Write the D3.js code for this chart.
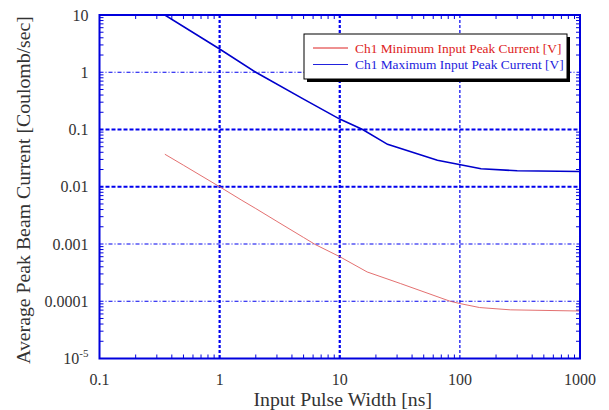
<!DOCTYPE html>
<html>
<head>
<meta charset="utf-8">
<script src="https://cdn.jsdelivr.net/npm/d3@7"></script>
<style>
  body { margin: 0; background: #fff; }
  svg { font-family: "Liberation Serif", "DejaVu Serif", serif; }
</style>
</head>
<body>
<svg id="chart" width="609" height="410"></svg>
<script>
// pulse width [ns] and peak currents
var minWidth = [0.35, 0.5, 1, 1.53, 2, 3, 5, 6.25, 10, 16.9, 32, 83, 100, 146, 263, 1000];
var minCurrent = [0.037, 0.0238, 0.0100, 0.0058, 0.00416, 0.00248, 0.0013, 0.00098, 0.0006,
                  0.000325, 0.000204, 0.0001, 0.0000912, 0.0000776, 0.0000708, 0.0000675];
var maxWidth = [0.35, 1, 2, 5, 10, 15.5, 25, 65, 150, 300, 1000];
var maxCurrent = [10, 2.55, 1.0, 0.34, 0.152, 0.1, 0.055, 0.029, 0.0206, 0.019, 0.0185];

var xTicks = [0.1, 1, 10, 100, 1000];
var yTicks = [1e-5, 0.0001, 0.001, 0.01, 0.1, 1, 10];
var yTickLabels = ["10-5", "0.0001", "0.001", "0.01", "0.1", "1", "10"];
var seriesNames = ["Ch1 Minimum Input Peak Current [V]", "Ch1 Maximum Input Peak Current [V]"];

var svg = d3.select("#chart");
var margin = {top: 15, right: 29, bottom: 51.5, left: 99.5};
var width = 609 - margin.left - margin.right;
var height = 410 - margin.top - margin.bottom;

var x = d3.scaleLog().domain([0.1, 1000]).range([0, width]);
var y = d3.scaleLog().domain([1e-5, 10]).range([height, 0]);

var g = svg.append("g")
    .attr("transform", "translate(" + margin.left + "," + margin.top + ")");

// grid lines (the renderer made some look heavier than others)
var heavyX = [1, 10];
var heavyY = [0.1, 0.01];
g.selectAll(".grid-x")
  .data(xTicks.slice(1, -1))
  .enter().append("line")
  .attr("class", "grid-x")
  .attr("x1", d => x(d)).attr("x2", d => x(d))
  .attr("y1", 0).attr("y2", height)
  .attr("stroke", "#0000ee")
  .attr("stroke-width", d => heavyX.includes(d) ? 2.2 : 1.2)
  .attr("stroke-dasharray", "3,2");
g.selectAll(".grid-y")
  .data(yTicks.slice(1, -1))
  .enter().append("line")
  .attr("class", "grid-y")
  .attr("x1", 0).attr("x2", width)
  .attr("y1", d => y(d)).attr("y2", d => y(d))
  .attr("stroke", "#0000ee")
  .attr("stroke-width", d => heavyY.includes(d) ? 2.2 : 1.2)
  .attr("stroke-dasharray", d => heavyY.includes(d) ? "4,2" : "4,2,1,2");

// minor ticks inside the frame, all four sides
var xMinor = [];
for (var e = -1; e < 3; e++) for (var k = 2; k <= 9; k++) xMinor.push(k * Math.pow(10, e));
var yMinor = [];
for (var e2 = -5; e2 < 1; e2++) for (var k2 = 2; k2 <= 9; k2++) yMinor.push(k2 * Math.pow(10, e2));

var tickLen = 4;
[0, height].forEach(function (yy, i) {
  g.selectAll(".xminor" + i)
    .data(xMinor)
    .enter().append("line")
    .attr("x1", d => x(d)).attr("x2", d => x(d))
    .attr("y1", yy).attr("y2", i ? yy - tickLen : yy + tickLen)
    .attr("stroke", "#0000dd").attr("stroke-width", 1);
});
[0, width].forEach(function (xx, i) {
  g.selectAll(".yminor" + i)
    .data(yMinor)
    .enter().append("line")
    .attr("y1", d => y(d)).attr("y2", d => y(d))
    .attr("x1", xx).attr("x2", i ? xx - tickLen : xx + tickLen)
    .attr("stroke", "#0000dd").attr("stroke-width", 1);
});

// data lines
g.append("clipPath").attr("id", "plot-clip")
  .append("rect").attr("width", width).attr("height", height);

var line = d3.line().x(d => x(d[0])).y(d => y(d[1]));
g.append("path")
  .datum(d3.zip(minWidth, minCurrent))
  .attr("clip-path", "url(#plot-clip)")
  .attr("fill", "none")
  .attr("stroke", "#e06060")
  .attr("stroke-width", 0.9)
  .attr("d", line);
g.append("path")
  .datum(d3.zip(maxWidth, maxCurrent))
  .attr("clip-path", "url(#plot-clip)")
  .attr("fill", "none")
  .attr("stroke", "#0000cc")
  .attr("stroke-width", 1.6)
  .attr("d", line);

// frame
g.append("rect")
  .attr("width", width).attr("height", height)
  .attr("fill", "none")
  .attr("stroke", "#0000dd")
  .attr("stroke-width", 2);

// tick labels
var labelColor = "#333";
g.selectAll(".xlabel")
  .data(xTicks)
  .enter().append("text")
  .attr("x", d => x(d))
  .attr("y", height + 26.5)
  .attr("text-anchor", "middle")
  .attr("font-size", 16)
  .attr("fill", labelColor)
  .text(d => String(d));

var yl = g.selectAll(".ylabel")
  .data(yTicks)
  .enter().append("text")
  .attr("x", -11)
  .attr("y", d => y(d) + 5.5)
  .attr("text-anchor", "end")
  .attr("font-size", 16)
  .attr("fill", labelColor);
yl.each(function (d, i) {
  var t = d3.select(this);
  var lab = yTickLabels[i];
  if (lab === "10-5") {
    t.append("tspan").text("10");
    t.append("tspan").attr("dy", -7).attr("font-size", 11).text("-5");
  } else {
    t.text(lab);
  }
});

// axis titles
svg.append("text")
  .attr("x", margin.left + width / 2 + 3)
  .attr("y", 405.5)
  .attr("text-anchor", "middle")
  .attr("font-size", 19.8)
  .attr("fill", labelColor)
  .text("Input Pulse Width [ns]");
svg.append("text")
  .attr("transform", "translate(30,190) rotate(-90)")
  .attr("text-anchor", "middle")
  .attr("font-size", 19.8)
  .attr("fill", labelColor)
  .text("Average Peak Beam Current [Coulomb/sec]");

// legend
var legend = svg.append("g").attr("transform", "translate(304,34)");
legend.append("rect")
  .attr("x", 3).attr("y", 3).attr("width", 263).attr("height", 45)
  .attr("fill", "#000");
legend.append("rect")
  .attr("width", 263).attr("height", 45)
  .attr("fill", "#fff").attr("stroke", "#000").attr("stroke-width", 1);
var legendColors = ["#dd2222", "#2222dd"];
seriesNames.forEach(function (name, i) {
  var ly = 14 + i * 16.5;
  legend.append("line")
    .attr("x1", 9).attr("x2", 44)
    .attr("y1", ly).attr("y2", ly)
    .attr("stroke", legendColors[i]).attr("stroke-width", 1);
  legend.append("text")
    .attr("x", 51).attr("y", ly + 4.5)
    .attr("font-size", 13.4)
    .attr("fill", legendColors[i])
    .text(name);
});
</script>
</body>
</html>
